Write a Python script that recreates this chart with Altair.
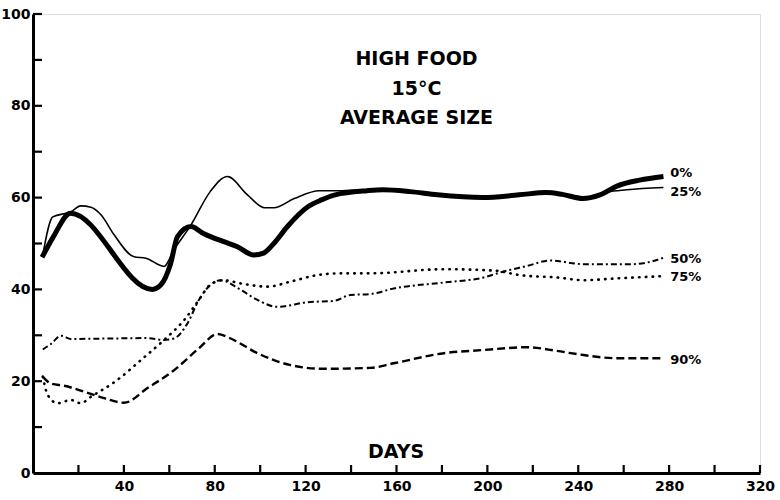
import altair as alt
import pandas as pd

# Average size over time, high food at 15 °C, one series per treatment level
days_0 = [4, 9, 16.5, 52.5, 56.3, 60.5, 63.6, 69.5, 75, 84, 90, 97, 101.5, 106, 112, 121,
          127, 133, 147, 154, 166, 178, 198, 214, 226, 233, 242, 249.5, 257, 267, 277.5]
size_0 = [47, 51.5, 56.6, 40, 41, 45.5, 51.5, 53.7, 52.2, 50.4, 49.3, 47.5, 47.9, 50, 53.7, 58,
          59.5, 60.6, 61.5, 61.7, 61.3, 60.6, 60, 60.6, 61.1, 60.7, 59.8, 60.6, 62.5, 63.8, 64.6]

days_25 = [4.3, 8.7, 16.7, 21, 25.5, 30, 35.7, 44.5, 49.7, 57.7, 62, 69.5, 78, 85.6, 94.4, 102,
           106, 115, 126, 135, 140, 147, 154, 166, 178, 198, 214, 226, 233, 242, 249.5, 253,
           261.4, 277.5]
size_25 = [47.5, 55.8, 56.9, 58.2, 57.9, 56.2, 51.9, 47.1, 46.8, 45, 48.6, 54, 61.3, 64.6, 60.6,
           57.8, 57.8, 59.8, 61.5, 61.5, 61.6, 61.5, 61.7, 61.3, 60.6, 60, 60.6, 61.1, 60.7,
           59.8, 60.6, 61.2, 61.7, 62.2]

days_50 = [4.3, 7.9, 12.3, 16.7, 34, 50, 57.7, 62, 68, 73, 82.6, 91.4, 98.8, 107.6, 120.7,
           132.4, 139.8, 148.6, 158.8, 180.8, 198.4, 207.2, 217.4, 227.7, 242.3, 264.3, 271.6, 278]
size_50 = [26.9, 28.1, 29.9, 29.2, 29.3, 29.4, 29, 29.3, 32.6, 37.7, 42, 39.9, 37.7, 36.2, 37.2,
           37.5, 38.8, 39, 40.2, 41.5, 42.6, 43.9, 45.1, 46.3, 45.5, 45.5, 46, 47]

days_75 = [4.3, 6.5, 10.8, 16.7, 21, 25.5, 37.2, 47.5, 57.7, 66.5, 73, 78, 84, 91.4, 103.2,
           113.4, 125, 135.4, 148.6, 180.8, 202.8, 214.5, 230.6, 242.3, 257, 277.5]
size_75 = [21, 17, 15.2, 15.9, 15.2, 16.6, 20.3, 24.6, 29, 33.3, 37.7, 41, 42, 41.3, 40.6,
           41.7, 43.1, 43.5, 43.5, 44.4, 44.1, 43.1, 42.6, 42, 42.4, 42.9]

days_90 = [4.3, 7.9, 13.8, 22.6, 31.3, 40.1, 50.4, 62.1, 73.1, 81.2, 87, 98.8, 113.4, 128,
           148.6, 158.8, 180.8, 198.4, 217.4, 230.6, 242.3, 257, 277.5]
size_90 = [21, 19.5, 19, 17.7, 16.3, 15.3, 18.5, 22.4, 27.2, 30.3, 29.3, 26.1, 23.5, 22.7,
           22.9, 23.9, 26.1, 26.8, 27.4, 26.6, 25.7, 25, 25]

# End-of-line labels
label_text = ["0%", "25%", "50%", "75%", "90%"]
label_day = [280.5, 280.5, 280.5, 280.5, 280.5]
label_size = [65.4, 61.2, 46.6, 42.7, 24.6]

# Heading lines and the axis caption drawn inside the plot
heading_text = ["HIGH FOOD", "15°C", "AVERAGE SIZE", "DAYS"]
heading_day = [168.8, 168.8, 168.8, 159.8]
heading_size = [90.2, 83.7, 77.3, 4.6]

x_ticks = list(range(20, 321, 20))
y_ticks = list(range(10, 101, 10))
x_labels = list(range(40, 321, 40))
y_labels = list(range(0, 101, 20))

W, H = 727, 459
FONT = "DejaVu Sans"

xs = alt.Scale(domain=[0, 320], nice=False, zero=False)
ys = alt.Scale(domain=[0, 100], nice=False, zero=False)

X_AX = alt.Axis(values=x_labels, title=None, ticks=False, grid=False,
                domainWidth=3, domainColor="black", domainOpacity=1, labelFont=FONT,
                labelFontSize=14, labelFontWeight="bold", labelColor="black", labelPadding=6,
                labelFlush=False, labelOverlap=False)
Y_AX = alt.Axis(values=y_labels, title=None, ticks=False, grid=False,
                domainWidth=3, domainColor="black", domainOpacity=1, labelFont=FONT,
                labelFontSize=14, labelFontWeight="bold", labelColor="black", labelPadding=3,
                labelFlush=False, labelOverlap=False)

line_styles = {
    "0%": dict(strokeWidth=5),
    "25%": dict(strokeWidth=1.6),
    "50%": dict(strokeWidth=2, strokeDash=[6, 3, 2, 3]),
    "75%": dict(strokeWidth=2.6, strokeDash=[0.5, 6.3], strokeCap="round"),
    "90%": dict(strokeWidth=2.4, strokeDash=[8, 4]),
}
series = {
    "0%": (days_0, size_0),
    "25%": (days_25, size_25),
    "50%": (days_50, size_50),
    "75%": (days_75, size_75),
    "90%": (days_90, size_90),
}

layers = []
for name, (d, s) in series.items():
    df = pd.DataFrame({"day": d, "size": s})
    layers.append(
        alt.Chart(df).mark_line(color="black", interpolate="monotone",
                                strokeJoin="round", **line_styles[name]).encode(
            x=alt.X("day:Q", scale=xs, axis=X_AX),
            y=alt.Y("size:Q", scale=ys, axis=Y_AX),
        )
    )

# Inward-pointing tick marks
xt = alt.Chart(pd.DataFrame({"day": x_ticks})).mark_rule(color="black", strokeWidth=2.2).encode(
    x=alt.X("day:Q", scale=xs, axis=X_AX), y=alt.value(H), y2=alt.value(H - 8))
yt = alt.Chart(pd.DataFrame({"size": y_ticks})).mark_rule(color="black", strokeWidth=2.2).encode(
    y=alt.Y("size:Q", scale=ys, axis=Y_AX), x=alt.value(0), x2=alt.value(9))

labels = alt.Chart(pd.DataFrame({"day": label_day, "size": label_size, "txt": label_text})).mark_text(
    align="left", baseline="middle", font=FONT, fontSize=13, fontWeight="bold", color="black").encode(
    x=alt.X("day:Q", scale=xs, axis=X_AX), y=alt.Y("size:Q", scale=ys, axis=Y_AX), text="txt:N")

heads = alt.Chart(pd.DataFrame({"day": heading_day, "size": heading_size, "txt": heading_text})).mark_text(
    align="center", baseline="middle", font=FONT, fontSize=19, fontWeight="bold", color="black").encode(
    x=alt.X("day:Q", scale=xs, axis=X_AX), y=alt.Y("size:Q", scale=ys, axis=Y_AX), text="txt:N")

chart = alt.layer(*layers, xt, yt, labels, heads).properties(
    width=W, height=H,
    padding={"left": 33, "top": 14, "right": 20, "bottom": 27},
    autosize="none",
).configure_view(stroke=None).configure(background="white")

chart.save("out.html", embed_options={"renderer": "svg", "actions": False})
